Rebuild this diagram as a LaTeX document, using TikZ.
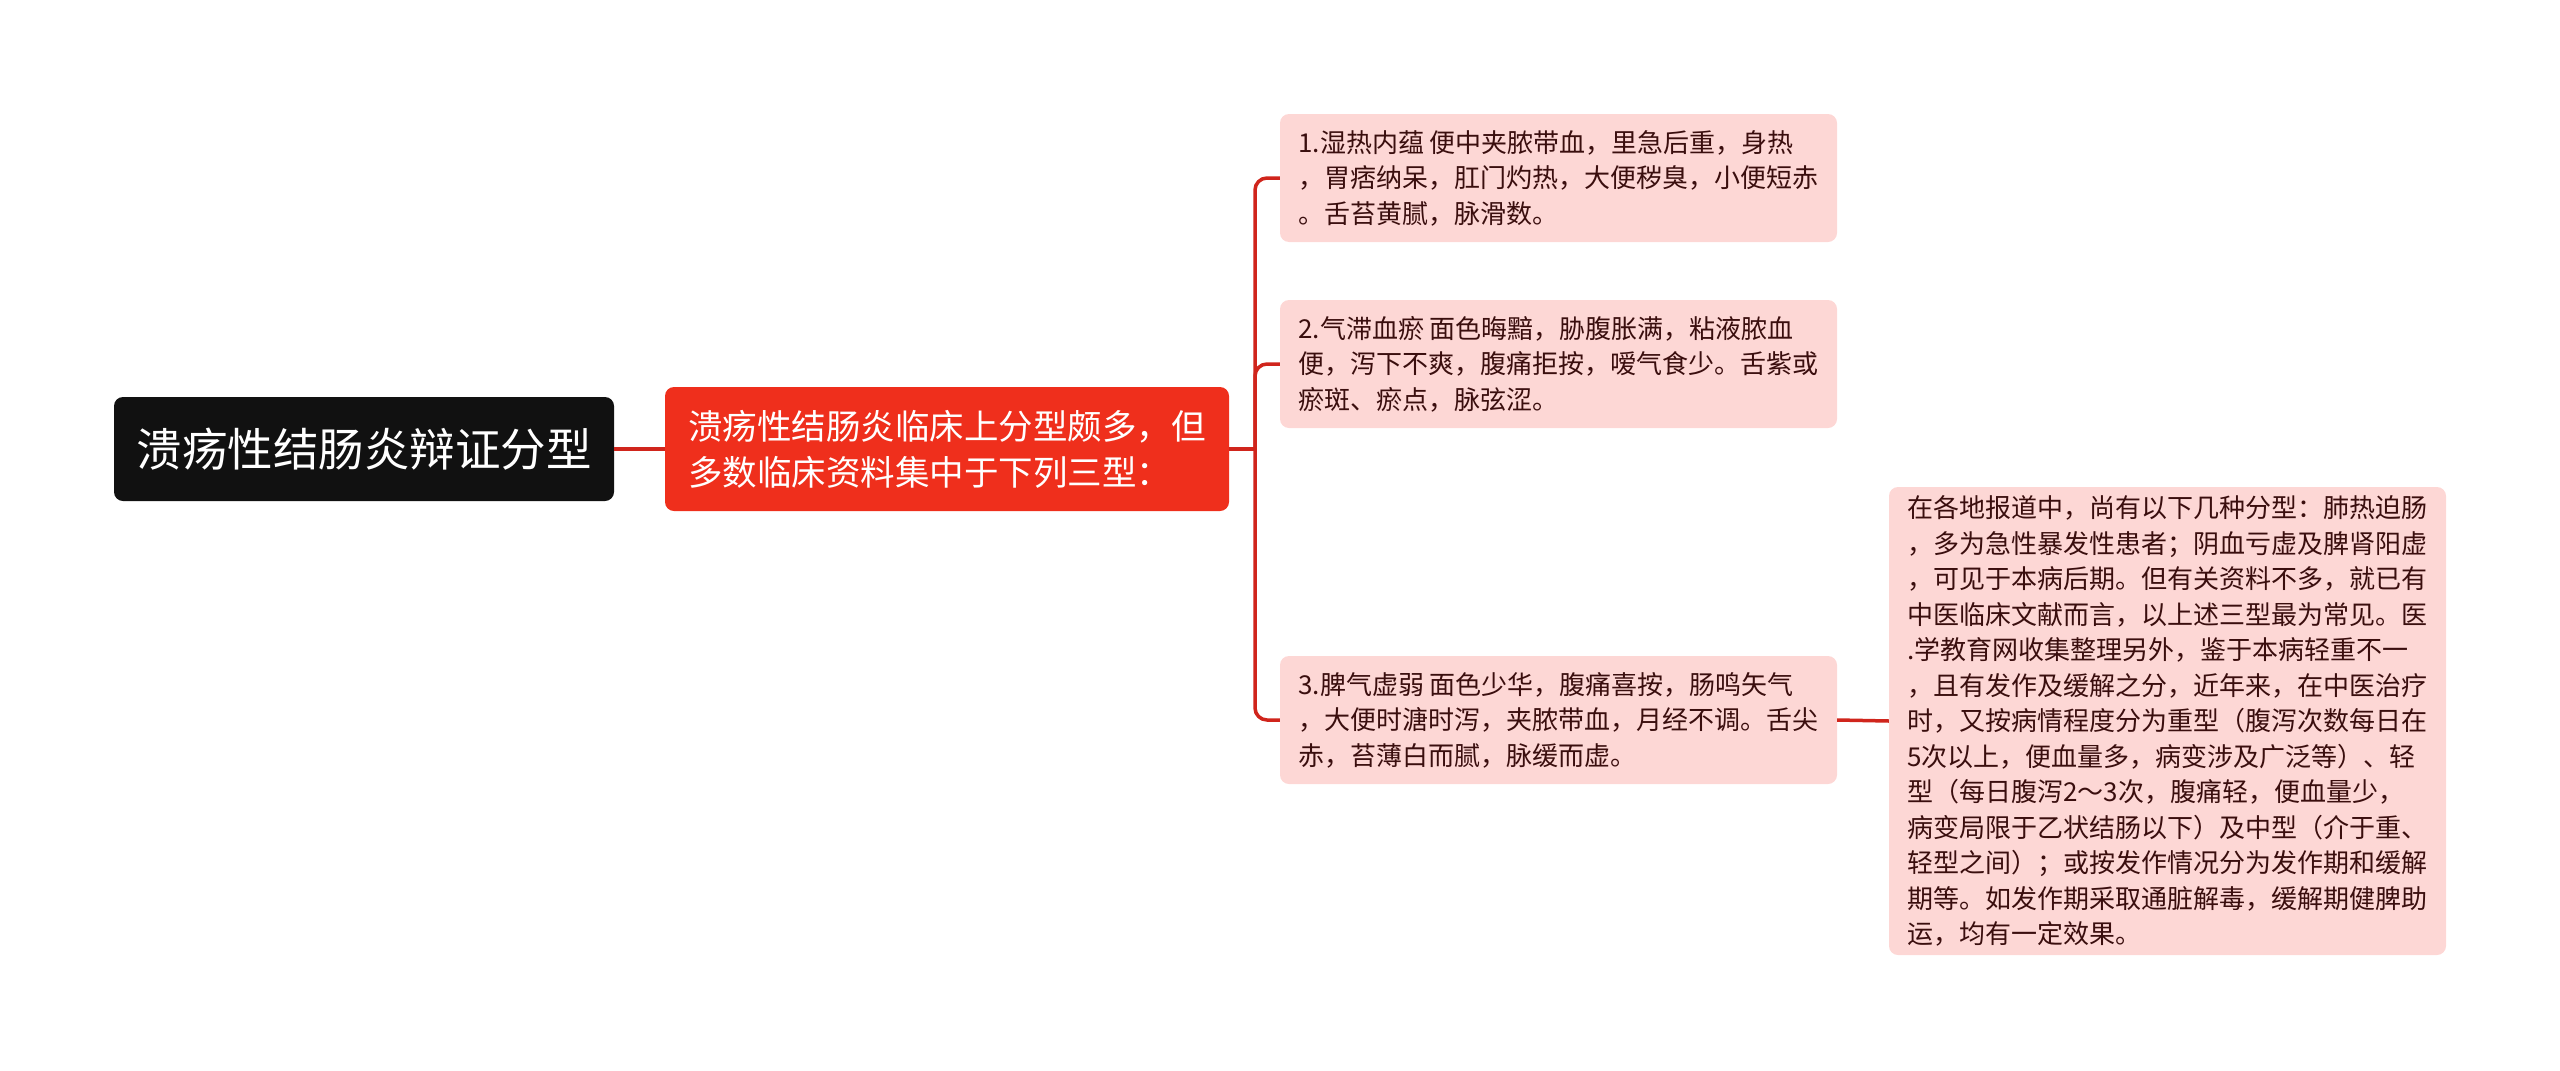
\documentclass[tikz,border=0pt]{standalone}
\usepackage{amsmath}
\usepackage{fontspec}
\usepackage{tikz}
\newfontfamily\cjk{Noto Sans CJK SC}
\definecolor{rootblack}{HTML}{111111}
\definecolor{subred}{HTML}{EF2F1C}
\definecolor{edgered}{HTML}{D0251C}
\definecolor{leafpink}{HTML}{FDD7D5}
\definecolor{leaftext}{HTML}{3A0E0E}

\begin{document}
\begin{tikzpicture}[x=1pt,y=1pt,yscale=-1,xscale=1,
  rootbox/.style={fill=rootblack,rounded corners=9pt,text=white,inner sep=0pt,
    minimum width=500pt,minimum height=104pt,font=\cjk\fontsize{45.5}{50}\selectfont},
  subbox/.style={fill=subred,rounded corners=9pt,text=white,align=left,inner sep=0pt,
    minimum width=564pt,minimum height=124pt,font=\cjk\fontsize{34.5}{46}\selectfont},
  leafbox/.style={fill=leafpink,rounded corners=9pt,text=leaftext,align=left,inner sep=0pt,
    minimum width=557pt,font=\cjk\fontsize{26}{35.5}\selectfont},
  edge/.style={draw=edgered,line width=3.5pt}]
%set diagram size
\useasboundingbox (0,0) rectangle (2560,1071);

% Text Node
\node [rootbox] (root) at (364,449) {溃疡性结肠炎辩证分型};
% Text Node
\node [subbox] (types) at (947,449) {溃疡性结肠炎临床上分型颇多，但\\多数临床资料集中于下列三型：\hspace*{12pt}};
% Text Node
\node [leafbox,minimum height=128pt] (damp) at (1558.5,178) {1.湿热内蕴 便中夹脓带血，里急后重，身热\\，胃痞纳呆，肛门灼热，大便秽臭，小便短赤\\。舌苔黄腻，脉滑数。};
% Text Node
\node [leafbox,minimum height=128pt] (stasis) at (1558.5,364) {2.气滞血瘀 面色晦黯，胁腹胀满，粘液脓血\\便，泻下不爽，腹痛拒按，嗳气食少。舌紫或\\瘀斑、瘀点，脉弦涩。};
% Text Node
\node [leafbox,minimum height=128pt] (spleen) at (1558.5,720) {3.脾气虚弱 面色少华，腹痛喜按，肠鸣矢气\\，大便时溏时泻，夹脓带血，月经不调。舌尖\\赤，苔薄白而腻，脉缓而虚。};
% Text Node
\node [leafbox,minimum height=468pt] (other) at (2167.5,721) {在各地报道中，尚有以下几种分型：肺热迫肠\\，多为急性暴发性患者；阴血亏虚及脾肾阳虚\\，可见于本病后期。但有关资料不多，就已有\\中医临床文献而言，以上述三型最为常见。医\\.学教育网收集整理另外，鉴于本病轻重不一\\，且有发作及缓解之分，近年来，在中医治疗\\时，又按病情程度分为重型（腹泻次数每日在\\5次以上，便血量多，病变涉及广泛等）、轻\\型（每日腹泻2～3次，腹痛轻，便血量少，\\病变局限于乙状结肠以下）及中型（介于重、\\轻型之间）；或按发作情况分为发作期和缓解\\期等。如发作期采取通脏解毒，缓解期健脾助\\运，均有一定效果。};

\coordinate (trunk) at (1255,449);

%Straight Lines
\draw [edge] (root.east) -- (types.west);
\draw [edge] (types.east) -- (trunk);
%Elbow Lines
\draw [edge,rounded corners=12pt] (trunk) |- (damp.west);
\draw [edge,rounded corners=12pt] (trunk) |- (stasis.west);
\draw [edge,rounded corners=12pt] (trunk) |- (spleen.west);
%Straight Lines
\draw [edge] (spleen.east) -- (other.west);

\end{tikzpicture}
\end{document}
